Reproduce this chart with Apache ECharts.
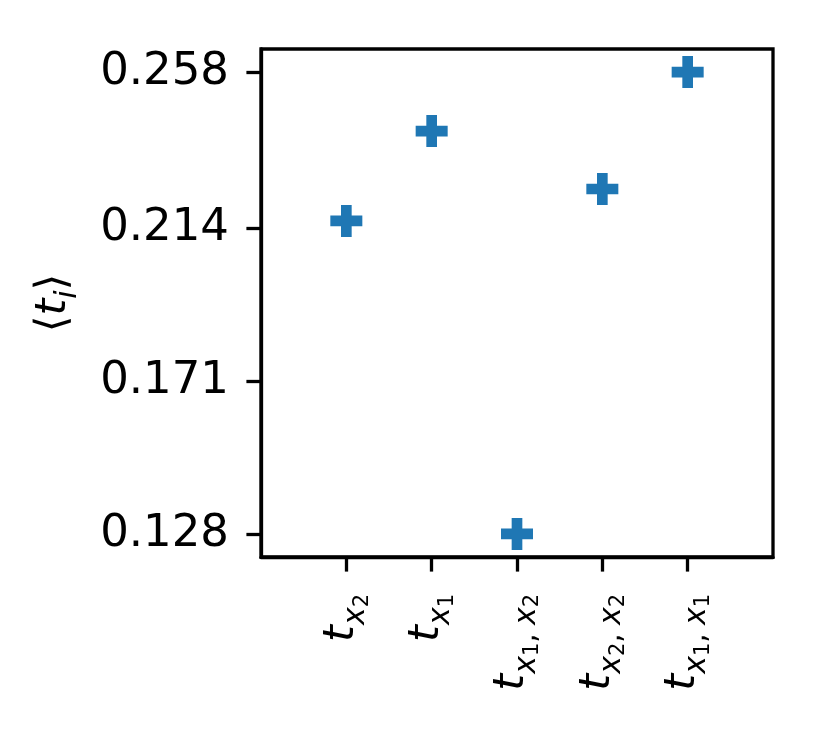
<!DOCTYPE html>
<html>
<head>
<meta charset="utf-8">
<script src="https://cdn.jsdelivr.net/npm/echarts@6/dist/echarts.min.js"></script>
<style>html,body{margin:0;padding:0;background:#fff;}#c{width:823px;height:729px;}</style>
</head>
<body>
<div id="c"></div>
<script>
// Data
const xPositions = [0, 1, 2, 3, 4];
const xLabelSubs = [['2'], ['1'], ['1', '2'], ['2', '2'], ['1', '1']];
const values = [0.2161, 0.2414, 0.128, 0.2251, 0.258];
const yTicks = [0.128, 0.171, 0.214, 0.258];
const yMin = 0.1215, yMax = 0.2645;
const xMin = -1, xMax = 5;

const FONT = 'DejaVu Sans';
const chart = echarts.init(document.getElementById('c'), null, {renderer: 'canvas'});

const richX = {
  t: {fontFamily: FONT, fontSize: 43, fontStyle: 'italic', height: 43, verticalAlign: 'top', padding: [0, 0, 0, 0], color: '#000'},
  x: {fontFamily: FONT, fontSize: 30, fontStyle: 'italic', height: 30, verticalAlign: 'top', padding: [21, 0, 0, 0], color: '#000'},
  n: {fontFamily: FONT, fontSize: 21, height: 21, verticalAlign: 'top', padding: [31.5, 0, 0, 0], color: '#000'},
  c: {fontFamily: FONT, fontSize: 30, height: 30, verticalAlign: 'top', padding: [21, 8, 0, 0], color: '#000'}
};
const richY = {
  a: {fontFamily: FONT, fontSize: 43, height: 43, verticalAlign: 'top', padding: [0, 0, 0, 0], color: '#000'},
  t: {fontFamily: FONT, fontSize: 43, fontStyle: 'italic', height: 43, verticalAlign: 'top', padding: [0, 0, 0, 0], color: '#000'},
  s: {fontFamily: FONT, fontSize: 30, fontStyle: 'italic', height: 30, verticalAlign: 'top', padding: [21, 0, 0, 0], color: '#000'}
};

const plusPath = 'path://M1,0H2V1H3V2H2V3H1V2H0V1H1Z';

chart.setOption({
  animation: false,
  backgroundColor: '#fff',
  grid: {left: 261, right: 50, top: 49, bottom: 172, show: true, borderColor: '#000', borderWidth: 3.3, backgroundColor: 'transparent', outerBoundsMode: 'none'},
  xAxis: {
    type: 'value', min: xMin, max: xMax, interval: 1,
    splitLine: {show: false},
    axisLine: {show: true, onZero: false, lineStyle: {color: '#000', width: 3.3}},
    axisTick: {show: true, length: 14.6, lineStyle: {color: '#000', width: 3.3}, customValues: xPositions},
    axisLabel: {
      show: true, rotate: 90, margin: 37, customValues: xPositions,
      formatter: function (v) {
        const i = Math.round(v);
        const subs = xLabelSubs[i];
        if (!subs) return '';
        return '{t|t}' + subs.map(s => '{x|x}{n|' + s + '}').join('{c|,}');
      },
      rich: richX
    }
  },
  yAxis: {
    type: 'value', min: yMin, max: yMax,
    splitLine: {show: false},
    axisLine: {show: true, onZero: false, lineStyle: {color: '#000', width: 3.3}},
    axisTick: {show: true, length: 14.6, lineStyle: {color: '#000', width: 3.3}, customValues: yTicks},
    axisLabel: {
      show: true, margin: 32, customValues: yTicks,
      fontFamily: FONT, fontSize: 45, color: '#000',
      formatter: function (v) { return v.toFixed(3); }
    },
    name: '{a|⟨}{t|t}{s|i}{a|⟩}',
    nameLocation: 'middle', nameRotate: 90, nameGap: 178,
    nameTextStyle: {rich: richY, fontFamily: FONT, fontSize: 43, color: '#000'}
  },
  series: [{
    type: 'scatter',
    data: xPositions.map((x, i) => [x, values[i]]),
    symbol: plusPath,
    symbolSize: 32,
    itemStyle: {color: '#1f77b4', opacity: 1},
    emphasis: {disabled: true}
  }]
});
</script>
</body>
</html>
